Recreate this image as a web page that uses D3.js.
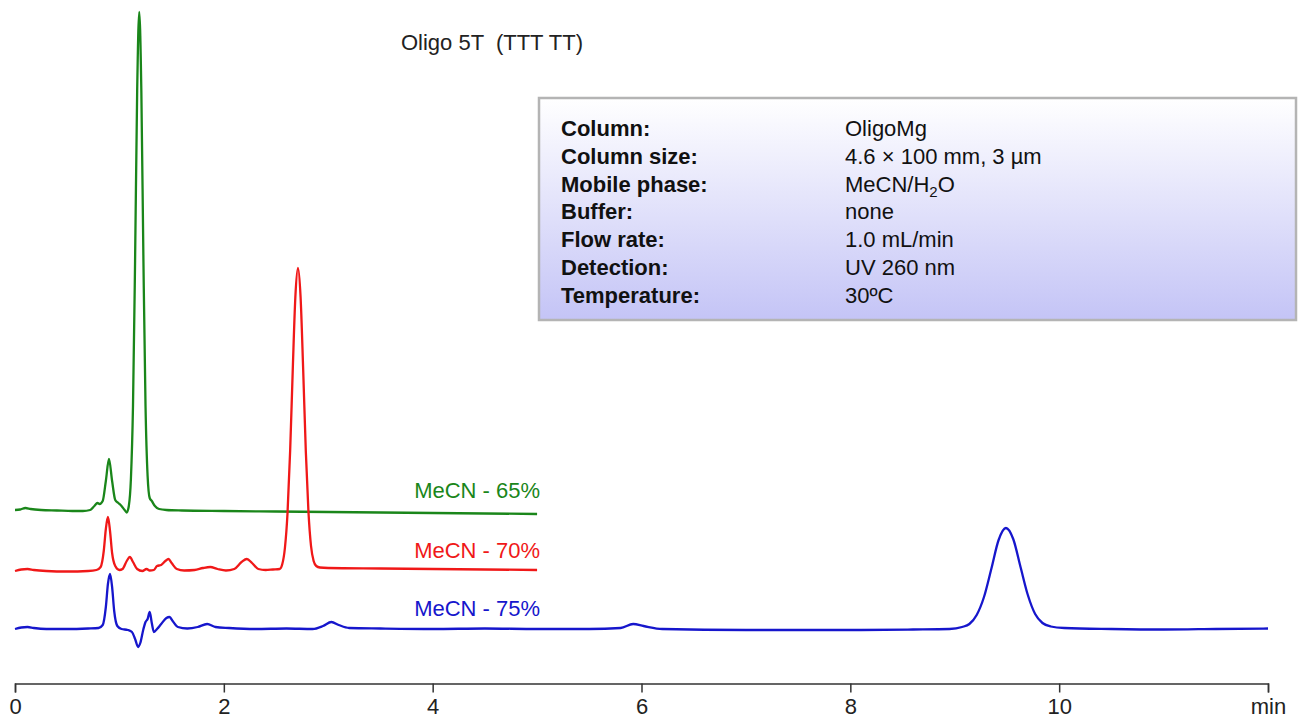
<!DOCTYPE html>
<html>
<head>
<meta charset="utf-8">
<script src="https://cdn.jsdelivr.net/npm/d3@7"></script>
<style>
  body { margin: 0; background: #fff; }
  svg { font-family: "Liberation Sans", Arial, sans-serif; }
</style>
</head>
<body>
<svg id="chart"></svg>
<script>
// chart size
const width = 1298;
const height = 719;

// time ticks (min)
const timeTicks = [0, 2, 4, 6, 8, 10, 12];

// traces: [time (min), signal above own baseline]
const green65 = [
  [0.00, 1], [0.05, 1.5], [0.10, 3], [0.15, 2], [0.25, 1], [0.40, 0.5], [0.55, 0], [0.65, 0],
  [0.72, 1], [0.76, 5], [0.79, 8], [0.81, 7], [0.84, 10], [0.87, 30], [0.90, 52], [0.93, 30],
  [0.96, 11], [0.99, 8], [1.02, 5], [1.05, 1], [1.07, -1.5], [1.09, 5], [1.11, 32], [1.13, 105],
  [1.15, 250], [1.17, 420], [1.19, 499], [1.21, 420], [1.23, 250], [1.25, 105], [1.27, 35],
  [1.29, 13], [1.31, 10], [1.34, 5], [1.38, 2], [1.45, 1], [1.60, 0.5], [2.00, 0], [2.50, -0.5],
  [3.00, -1], [3.50, -1.5], [4.00, -2], [4.50, -2.5], [5.00, -3]
];
const red70 = [
  [0.00, 0], [0.06, 1.5], [0.12, 2], [0.18, 1], [0.30, 0], [0.50, -0.5], [0.70, 0], [0.78, 1],
  [0.82, 4], [0.85, 20], [0.87, 42], [0.89, 54], [0.91, 40], [0.93, 18], [0.96, 5], [1.00, 1],
  [1.03, 2], [1.07, 10], [1.10, 14], [1.13, 9], [1.17, 2], [1.22, 0], [1.26, 2], [1.29, 0.5],
  [1.33, 1], [1.36, 5], [1.40, 6], [1.44, 10], [1.47, 12], [1.50, 8], [1.55, 2], [1.62, 0.5],
  [1.72, 1], [1.80, 3], [1.87, 4], [1.94, 2], [2.02, 0.5], [2.10, 2], [2.17, 9], [2.22, 12],
  [2.27, 8], [2.33, 2], [2.40, 1], [2.47, 1.5], [2.535, 2], [2.56, 7], [2.585, 23], [2.61, 58],
  [2.635, 120], [2.66, 201], [2.685, 274], [2.71, 303], [2.735, 274], [2.76, 201], [2.785, 120],
  [2.81, 60], [2.835, 25], [2.86, 10], [2.885, 5], [2.92, 3.5], [3.00, 3], [3.50, 2.5],
  [4.00, 2], [4.50, 1.5], [5.00, 1]
];
const blue75 = [
  [0.00, 0], [0.06, 1.5], [0.12, 2], [0.18, 1], [0.30, 0], [0.50, 0], [0.70, 0.5], [0.80, 1],
  [0.84, 4], [0.87, 22], [0.89, 45], [0.91, 55], [0.93, 42], [0.95, 18], [0.98, 3], [1.02, 0],
  [1.08, -1], [1.12, -3], [1.15, -10], [1.18, -18], [1.20, -14], [1.23, 0], [1.25, 7], [1.27, 10],
  [1.29, 17], [1.31, 6], [1.33, -3], [1.36, 0], [1.40, 5], [1.45, 11], [1.48, 12], [1.51, 8],
  [1.56, 2], [1.65, 0.5], [1.75, 2], [1.84, 5], [1.92, 2], [2.05, 1], [2.30, 0], [2.60, 0.5],
  [2.85, 0], [2.95, 3], [3.03, 7], [3.10, 4], [3.20, 1], [3.50, 0.5], [4.00, 0], [4.50, 0.5],
  [5.00, 0], [5.50, 0], [5.80, 1], [5.92, 5], [6.02, 3], [6.20, 0], [7.00, -1], [8.00, -1],
  [8.60, -0.5], [8.95, 0], [9.07, 2], [9.14, 5], [9.21, 14], [9.28, 32], [9.35, 60], [9.42, 89],
  [9.49, 101], [9.56, 90], [9.63, 62], [9.70, 34], [9.77, 15], [9.84, 6], [9.92, 2.5],
  [10.05, 1], [10.50, 0], [11.00, -0.5], [11.50, 0], [12.00, 0.5]
];

// series names, baseline offsets and colours
const seriesNames = ["MeCN - 65%", "MeCN - 70%", "MeCN - 75%"];
const seriesOffsets = [118, 58, 0];
const seriesColors = ["#1a861a", "#f01818", "#1616cc"];
const seriesData = [green65, red70, blue75];

// info box rows
const infoLabels = ["Column:", "Column size:", "Mobile phase:", "Buffer:", "Flow rate:", "Detection:", "Temperature:"];
const infoValues = ["OligoMg", "4.6 × 100 mm, 3 µm", "MeCN/H2O", "none", "1.0 mL/min", "UV 260 nm", "30ºC"];

const svg = d3.select("#chart")
  .attr("width", width)
  .attr("height", height);

// scales
const x = d3.scaleLinear().domain([0, 12]).range([15, 1268]);
const y = d3.scaleLinear().domain([0, 620]).range([629, 9]);

// title
svg.append("text")
  .attr("x", 492)
  .attr("y", 50)
  .attr("text-anchor", "middle")
  .style("font-size", "22px")
  .attr("fill", "#222")
  .attr("xml:space", "preserve")
  .text("Oligo 5T  (TTT TT)");

// info box with gradient
const defs = svg.append("defs");
const grad = defs.append("linearGradient")
  .attr("id", "boxGrad")
  .attr("x1", 0).attr("y1", 0).attr("x2", 0).attr("y2", 1);
grad.append("stop").attr("offset", "0%").attr("stop-color", "#ffffff");
grad.append("stop").attr("offset", "100%").attr("stop-color", "#c4c4f6");

const box = svg.append("g").attr("transform", "translate(539,98)");
box.append("rect")
  .attr("x", 0).attr("y", 0)
  .attr("width", 757).attr("height", 222)
  .attr("fill", "url(#boxGrad)")
  .attr("stroke", "#b4b4b4")
  .attr("stroke-width", 2.5);

box.selectAll(".info-label")
  .data(infoLabels)
  .join("text")
  .attr("class", "info-label")
  .attr("x", 22)
  .attr("y", (d, i) => 38 + i * 27.8)
  .style("font-size", "22px")
  .style("font-weight", "bold")
  .attr("fill", "#111")
  .text(d => d);

box.selectAll(".info-value")
  .data(infoValues)
  .join("text")
  .attr("class", "info-value")
  .attr("x", 306)
  .attr("y", (d, i) => 38 + i * 27.8)
  .style("font-size", "22px")
  .attr("fill", "#111")
  .each(function(d) {
    const t = d3.select(this);
    if (d === "MeCN/H2O") {
      t.append("tspan").text("MeCN/H");
      t.append("tspan").attr("dy", 5).style("font-size", "15px").text("2");
      t.append("tspan").attr("dy", -5).text("O");
    } else {
      t.text(d);
    }
  });

// traces
const line = d3.line()
  .x(d => x(d[0]))
  .y(d => y(d[1]))
  .curve(d3.curveMonotoneX);

seriesData.forEach((data, i) => {
  const pts = data.map(d => [d[0], d[1] + seriesOffsets[i]]);
  svg.append("path")
    .datum(pts)
    .attr("fill", "none")
    .attr("stroke", seriesColors[i])
    .attr("stroke-width", 2.3)
    .attr("stroke-linejoin", "round")
    .attr("d", line);

  svg.append("text")
    .attr("x", x(5) + 3)
    .attr("y", y(seriesOffsets[i]) - 13)
    .attr("text-anchor", "end")
    .style("font-size", "22px")
    .attr("fill", seriesColors[i])
    .text(seriesNames[i]);
});

// time axis
const axis = svg.append("g")
  .attr("transform", "translate(0,683.5)")
  .call(d3.axisBottom(x)
    .tickValues(timeTicks)
    .tickSizeOuter(0)
    .tickSize(9)
    .tickPadding(6)
    .tickFormat(d => d === 12 ? "min" : d));

axis.select(".domain").attr("stroke", "#333").attr("stroke-width", 1.5);
axis.selectAll(".tick line").attr("stroke", "#333").attr("stroke-width", 1.5);
axis.selectAll(".tick text")
  .style("font-size", "22px")
  .style("font-family", "Liberation Sans, Arial, sans-serif")
  .attr("fill", "#222");
</script>
</body>
</html>
